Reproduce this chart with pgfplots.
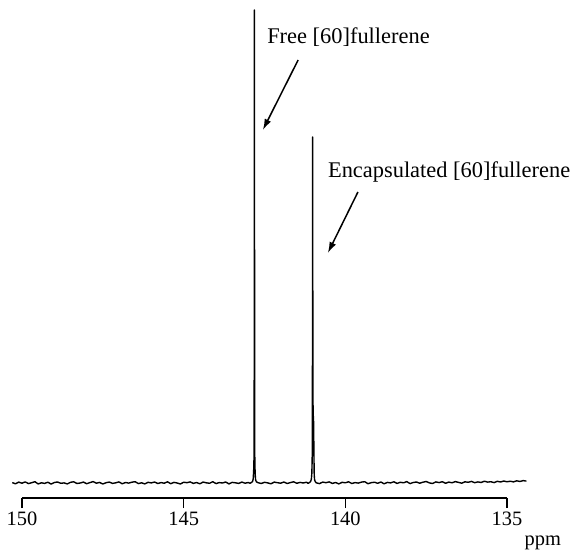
\documentclass[border=0pt]{standalone}
\usepackage{fontspec}
\setmainfont{Liberation Serif}
\usepackage{pgfplots}
\pgfplotsset{compat=1.18}
\usetikzlibrary{arrows.meta}

\begin{document}
\begin{tikzpicture}
\useasboundingbox (-22bp,-53bp) rectangle (549bp,498bp);
\begin{axis}[
    scale only axis,
    width=485bp,
    height=488bp,
    x dir=reverse,
    xmin=135, xmax=150,
    ymin=-15, ymax=473,
    axis x line*=bottom,
    axis y line=none,
    xtick={150,145,140,135},
    xtick pos=bottom,
    tick align=outside,
    major tick length=10bp,
    every tick/.style={black, line width=1.5bp},
    x axis line style={line width=1.5bp},
    tick label style={font=\fontsize{20.5}{24}\selectfont},
    /pgf/number format/assume math mode=true,
    clip=false,
]
\addplot[black, line width=1.4bp, line join=round] table {
x y
150.3 0.4
150.2 -0.8
150.1 0.9
150.0 -0.2
149.9 1.1
149.8 -0.6
149.7 0.3
149.6 1.3
149.5 -0.9
149.4 0.2
149.3 -0.4
149.2 0.8
149.1 -1.1
149.0 0.5
148.9 1.0
148.8 -0.3
148.7 0.1
148.6 -0.9
148.5 0.7
148.4 1.2
148.3 -0.5
148.2 0.0
148.1 0.9
148.0 -0.7
147.9 0.4
147.8 1.4
147.7 -0.2
147.6 0.6
147.5 -1.0
147.4 0.3
147.3 0.9
147.2 -0.4
147.1 0.2
147.0 1.1
146.9 -0.8
146.8 0.5
146.7 -0.1
146.6 0.8
146.5 1.3
146.4 -0.6
146.3 0.2
146.2 -0.9
146.1 0.7
146.0 0.1
145.9 1.0
145.8 -0.5
145.7 0.4
145.6 -0.2
145.5 1.2
145.4 -0.7
145.3 0.6
145.2 0.0
145.1 -1.0
145.0 0.8
144.9 0.3
144.8 1.1
144.7 -0.4
144.6 0.5
144.5 -0.8
144.4 0.9
144.3 0.2
144.2 -0.3
144.1 1.3
144.0 -0.6
143.9 0.4
143.8 0.0
143.7 1.0
143.6 -0.9
143.5 0.6
143.4 0.2
143.3 -0.4
143.2 0.9
143.1 -0.2
143.0 0.5
142.95 -0.3
142.90 0.6
142.87 1.5
142.85 4
142.835 12
142.825 24
142.817 120
142.811 473
142.806 120
142.80 26
142.79 10
142.775 3
142.75 1.2
142.7 0.3
142.6 -0.5
142.5 0.7
142.4 0.1
142.3 -0.8
142.2 0.9
142.1 0.3
142.0 -0.2
141.9 1.0
141.8 -0.5
141.7 0.4
141.6 1.2
141.5 -0.3
141.4 0.6
141.3 0.0
141.2 0.8
141.15 -0.4
141.10 0.7
141.07 1.8
141.05 4
141.035 10
141.022 30
141.015 150
141.010 346
141.005 150
141.000 80
140.990 66
140.980 60
140.972 30
140.962 8
140.95 3
140.93 1.4
140.9 0.2
140.8 -0.6
140.7 0.9
140.6 0.3
140.5 1.1
140.4 -0.4
140.3 0.5
140.2 -0.9
140.1 0.7
140.0 0.2
139.9 1.2
139.8 -0.5
139.7 0.4
139.6 -0.1
139.5 0.9
139.4 1.3
139.3 -0.7
139.2 0.3
139.1 0.8
139.0 -0.3
138.9 1.0
138.8 -0.8
138.7 0.6
138.6 0.1
138.5 1.2
138.4 -0.4
138.3 0.7
138.2 0.2
138.1 1.4
138.0 -0.6
137.9 0.5
137.8 1.0
137.7 -0.2
137.6 0.8
137.5 1.5
137.4 0.1
137.3 -0.5
137.2 1.1
137.1 0.4
137.0 1.3
136.9 -0.3
136.8 0.9
136.7 0.2
136.6 1.4
136.5 0.6
136.4 -0.2
136.3 1.2
136.2 0.7
136.1 1.6
136.0 0.3
135.9 1.1
135.8 0.5
135.7 1.8
135.6 0.9
135.5 1.3
135.4 0.4
135.3 1.7
135.2 1.0
135.1 2.0
135.0 1.2
134.9 1.8
134.8 1.1
134.7 2.2
134.6 1.5
134.5 2.4
134.4 1.9
};

% annotations
\node[anchor=base west, inner sep=0pt, font=\fontsize{22.5}{26}\selectfont]
    at (axis cs:142.42,439) {Free [60]fullerene};
\draw[-{Latex[length=11bp,width=7bp]}, line width=1.5bp]
    (axis cs:141.46,423) -- (axis cs:142.55,353);
\node[anchor=base west, inner sep=0pt, font=\fontsize{22.5}{26}\selectfont]
    at (axis cs:140.54,305) {Encapsulated [60]fullerene};
\draw[-{Latex[length=11bp,width=7bp]}, line width=1.5bp]
    (axis cs:139.61,291) -- (axis cs:140.54,230);
\node[anchor=base, inner sep=0pt, font=\fontsize{20.5}{24}\selectfont]
    at (axis cs:133.89,-62) {ppm};
\end{axis}
\end{tikzpicture}
\end{document}
